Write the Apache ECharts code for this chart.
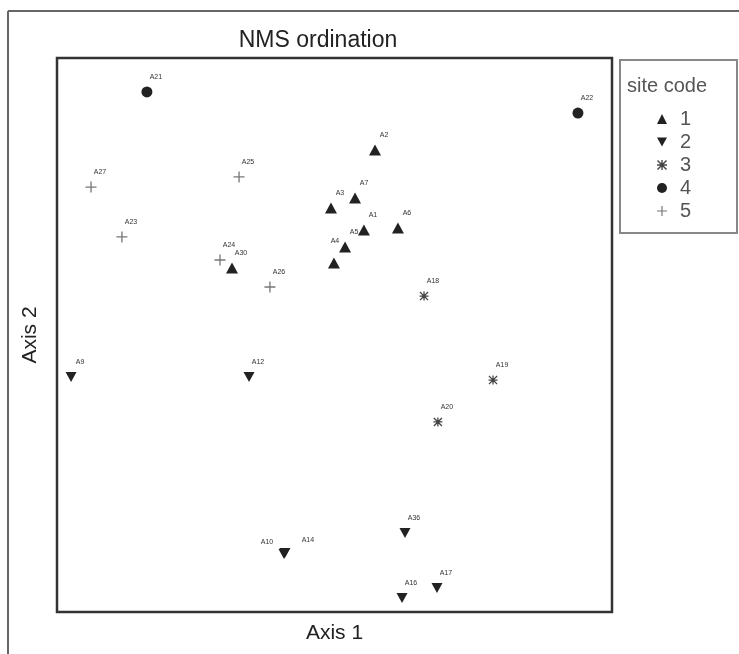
<!DOCTYPE html>
<html>
<head>
<meta charset="utf-8">
<script src="https://cdn.jsdelivr.net/npm/echarts@6/dist/echarts.min.js"></script>
<style>
html,body{margin:0;padding:0;background:#fff;}
#chart{width:739px;height:654px;}
</style>
</head>
<body>
<div id="chart"></div>
<script>
// NMS scores (Axis 1, Axis 2)
const site1Names = ['A2','A3','A7','A1','A6','A5','A4','A30'];
const site1X = [0.219,-0.019,0.111,0.159,0.343,0.057,-0.003,-0.554];
const site1Y = [1.002,0.688,0.742,0.569,0.579,0.477,0.390,0.363];

const site2Names = ['A9','A12','A10','A14','A36','A16','A17'];
const site2X = [-1.424,-0.462,-0.273,-0.268,0.381,0.365,0.554];
const site2Y = [-0.227,-0.227,-1.186,-1.180,-1.072,-1.424,-1.370];

const site3Names = ['A18','A19','A20'];
const site3X = [0.484,0.857,0.559];
const site3Y = [0.211,-0.244,-0.471];

const site4Names = ['A21','A22'];
const site4X = [-1.014,1.316];
const site4Y = [1.316,1.202];

const site5Names = ['A27','A23','A25','A24','A26'];
const site5X = [-1.316,-1.149,-0.516,-0.619,-0.349];
const site5Y = [0.801,0.531,0.856,0.406,0.260];

const siteCodes = ['1','2','3','4','5'];

// label nudges (style only)
const labelNudge = {A10:[-17,-12], A14:[23,-13], A4:[1,-22]};

const chart = echarts.init(document.getElementById('chart'));

const DOWN = 'path://M0,0 L10,0 L5,9 Z';
const AST = 'path://M4.3,0 H5.7 V4.3 H10 V5.7 H5.7 V10 H4.3 V5.7 H0 V4.3 H4.3 Z M1,0 L5,4 L9,0 L10,1 L6,5 L10,9 L9,10 L5,6 L1,10 L0,9 L4,5 L0,1 Z';
const PLUS = 'path://M4.4,0 H5.6 V4.4 H10 V5.6 H5.6 V10 H4.4 V5.6 H0 V4.4 H4.4 Z';

function mk(names, xs, ys){
  return names.map((n,i)=>{
    const d = {name:n, value:[xs[i], ys[i]]};
    if (labelNudge[n]) d.label = {offset: labelNudge[n]};
    return d;
  });
}

const lbl = {show:true, position:'inside', offset:[9,-15], formatter:'{b}', fontSize:7, color:'#333', fontFamily:'Liberation Sans'};

function ser(name, data, symbol, size, color){
  return {name, type:'scatter', data, symbol, symbolSize:size,
    itemStyle:{color, opacity:1}, label:lbl, emphasis:{disabled:true}, z:3};
}

chart.setOption({
  animation:false,
  backgroundColor:'#fff',
  title:{text:'NMS ordination', left:313, top:24, textAlign:'center',
    textStyle:{fontFamily:'Liberation Sans', fontSize:23, fontWeight:'normal', color:'#222'}},
  grid:{left:57, top:58, width:555, height:554, show:true, borderColor:'#333', borderWidth:2.5, backgroundColor:'#fff'},
  xAxis:{type:'value', min:-1.5, max:1.5, name:'Axis 1', nameLocation:'middle', nameGap:11,
    nameTextStyle:{fontFamily:'Liberation Sans', fontSize:21, color:'#222'},
    axisLine:{show:false}, axisTick:{show:false}, axisLabel:{show:false}, splitLine:{show:false}},
  yAxis:{type:'value', min:-1.5, max:1.5, name:'Axis 2', nameLocation:'middle', nameGap:16,
    nameTextStyle:{fontFamily:'Liberation Sans', fontSize:21, color:'#222'},
    axisLine:{show:false}, axisTick:{show:false}, axisLabel:{show:false}, splitLine:{show:false}},
  legend:{orient:'vertical', left:652, top:103, itemGap:1, itemWidth:10, itemHeight:10,
    data:siteCodes, selectedMode:false,
    textStyle:{fontFamily:'Liberation Sans', fontSize:20, lineHeight:22, color:'#555', padding:[0,0,0,8]}},
  graphic:[
    {type:'line', shape:{x1:8,y1:11,x2:739,y2:11}, style:{stroke:'#666', lineWidth:2}},
    {type:'line', shape:{x1:8,y1:11,x2:8,y2:654}, style:{stroke:'#666', lineWidth:2}},
    {type:'rect', shape:{x:620,y:60,width:117,height:173}, style:{fill:'none', stroke:'#888', lineWidth:2}},
    {type:'text', left:627, top:76, style:{text:'site code', font:'20px "Liberation Sans"', fill:'#555'}}
  ],
  series:[
    ser('1', mk(site1Names, site1X, site1Y), 'triangle', [12,11], '#222'),
    ser('2', mk(site2Names, site2X, site2Y), DOWN, [11,10], '#222'),
    ser('3', mk(site3Names, site3X, site3Y), AST, [9,9], '#444'),
    ser('4', mk(site4Names, site4X, site4Y), 'circle', 11, '#222'),
    ser('5', mk(site5Names, site5X, site5Y), PLUS, [11,11], '#777')
  ]
});
</script>
</body>
</html>
